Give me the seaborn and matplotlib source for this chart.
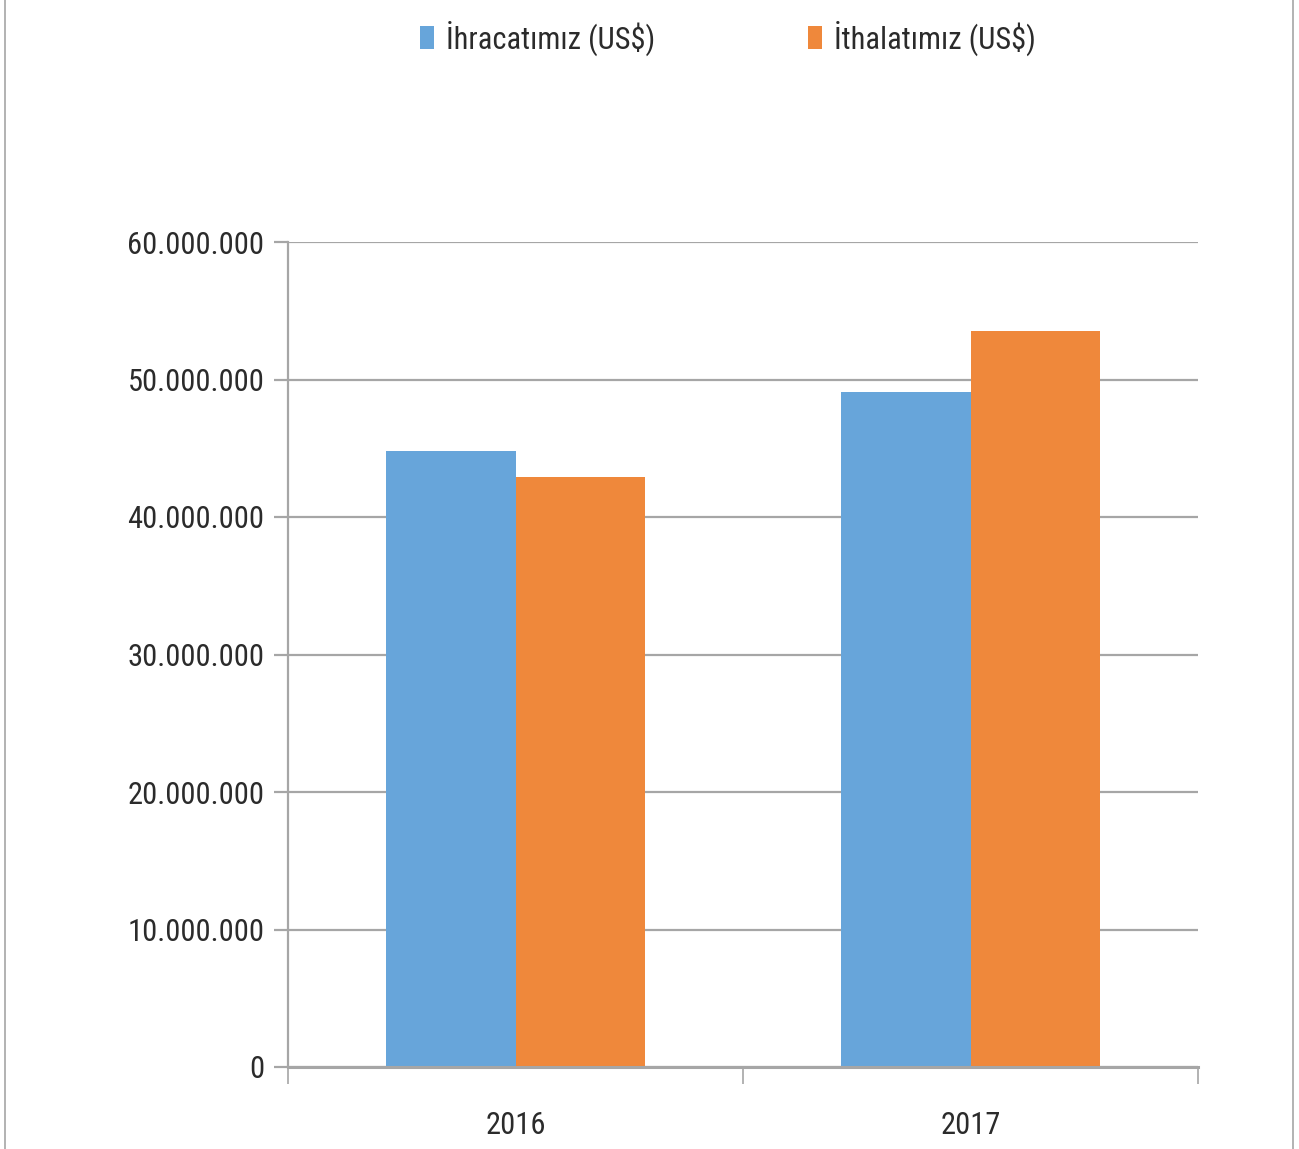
import seaborn as sns
import numpy as np
import pandas as pd
import matplotlib.pyplot as plt
from matplotlib.lines import Line2D
from matplotlib.patches import Patch
from matplotlib.ticker import FuncFormatter

# ----- data -----
years = ["2016", "2017"]
ihracat = [44800000, 49100000]
ithalat = [42900000, 53550000]
series_names = ["İhracatımız (US$)", "İthalatımız (US$)"]
colors = ["#67A5DA", "#EF883B"]

df = pd.DataFrame({
    "yil": years * 2,
    "deger": ihracat + ithalat,
    "seri": [series_names[0]] * 2 + [series_names[1]] * 2,
})

sns.set_style("white")
plt.rcParams["font.family"] = ["Roboto Condensed", "DejaVu Sans"]
plt.rcParams["font.stretch"] = "condensed"
plt.rcParams["font.weight"] = "normal"

fig = plt.figure(figsize=(12.99, 11.49), dpi=100)
ax = fig.add_axes([288 / 1299, 1 - 1067 / 1149, 910 / 1299, 825 / 1149])

sns.barplot(data=df, x="yil", y="deger", hue="seri", palette=colors,
            width=0.57, gap=0, saturation=1, linewidth=0, ax=ax, legend=False)

ax.set_xlim(-0.5, 1.5)
ax.set_ylim(0, 60000000)
ax.set_yticks(np.arange(0, 60000001, 10000000))
ax.yaxis.set_major_formatter(FuncFormatter(lambda v, p: f"{int(v):,}".replace(",", ".")))
ax.grid(axis="y", color="#A6A6A6", linewidth=1.6)
ax.set_axisbelow(True)
ax.set_xlabel("")
ax.set_ylabel("")

for s in ["top", "right"]:
    ax.spines[s].set_visible(False)
ax.spines["left"].set_color("#A6A6A6")
ax.spines["left"].set_linewidth(1.6)
ax.spines["bottom"].set_color("#A6A6A6")
ax.spines["bottom"].set_linewidth(2.2)

ax.tick_params(axis="y", length=10, width=1.6, color="#A6A6A6", pad=7,
               labelsize=22, labelcolor="#2b2b2b", left=True)
ax.tick_params(axis="x", which="major", length=0, pad=32, labelsize=22, labelcolor="#2b2b2b")
ax.set_xticks([-0.5, 0.5, 1.5], minor=True)
ax.tick_params(axis="x", which="minor", length=12, width=1.2, color="#A6A6A6", bottom=True)

handles = [Patch(facecolor=c, edgecolor="none") for c in colors]
fig.legend(handles, series_names, loc="center", bbox_to_anchor=(728 / 1299, 1 - 38 / 1149),
           ncol=2, frameon=False, fontsize=22, handlelength=0.45, handleheight=0.8,
           handletextpad=0.4, columnspacing=5, labelcolor="#2b2b2b")

# chart frame edges
fig.add_artist(Line2D([5 / 1299, 5 / 1299], [0, 1], color="#A6A6A6", linewidth=1.2))
fig.add_artist(Line2D([1293 / 1299, 1293 / 1299], [0, 1], color="#A6A6A6", linewidth=1.2))

fig.savefig("out.png", dpi=100)
